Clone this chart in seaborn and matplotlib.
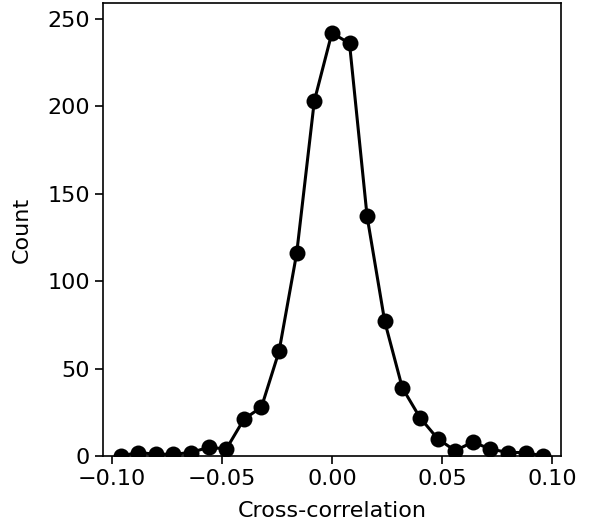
import numpy as np
import pandas as pd
import matplotlib
matplotlib.use("Agg")
import matplotlib.pyplot as plt
import seaborn as sns

# bin centres of the cross-correlation histogram
cross_corr = [-0.096, -0.088, -0.080, -0.072, -0.064, -0.056, -0.048, -0.040,
              -0.032, -0.024, -0.016, -0.008, 0.000, 0.008, 0.016, 0.024,
              0.032, 0.040, 0.048, 0.056, 0.064, 0.072, 0.080, 0.088, 0.096]
counts = [0, 2, 1, 1, 2, 5, 4, 21, 28, 60, 116, 203, 242, 236, 137, 77,
          39, 22, 10, 3, 8, 4, 2, 2, 0]

df = pd.DataFrame({"Cross-correlation": cross_corr, "Count": counts})

sns.set_style("ticks")
plt.rcParams["font.family"] = ["DejaVu Sans"]
plt.rcParams["text.color"] = "black"
plt.rcParams["axes.labelcolor"] = "black"
plt.rcParams["xtick.color"] = "black"
plt.rcParams["ytick.color"] = "black"

fig = plt.figure(figsize=(5.89, 5.29), dpi=100)
ax = fig.add_axes([0.175, 0.138, 0.777, 0.856])

sns.lineplot(data=df, x="Cross-correlation", y="Count", ax=ax,
             color="black", linewidth=2.2, marker="o", markersize=11.5,
             markeredgecolor="black", markeredgewidth=0)

ax.set_xlim(-0.104, 0.104)
ax.set_ylim(0, 259)
ax.set_xticks([-0.10, -0.05, 0.00, 0.05, 0.10])
ax.set_yticks([0, 50, 100, 150, 200, 250])
ax.tick_params(labelsize=16, width=1.2, length=6, colors="black")
ax.set_xlabel("Cross-correlation", fontsize=16, labelpad=8.5)
ax.set_ylabel("Count", fontsize=16, labelpad=11)
for s in ax.spines.values():
    s.set_linewidth(1.2)
    s.set_color("black")

fig.savefig("out.png", dpi=100)
